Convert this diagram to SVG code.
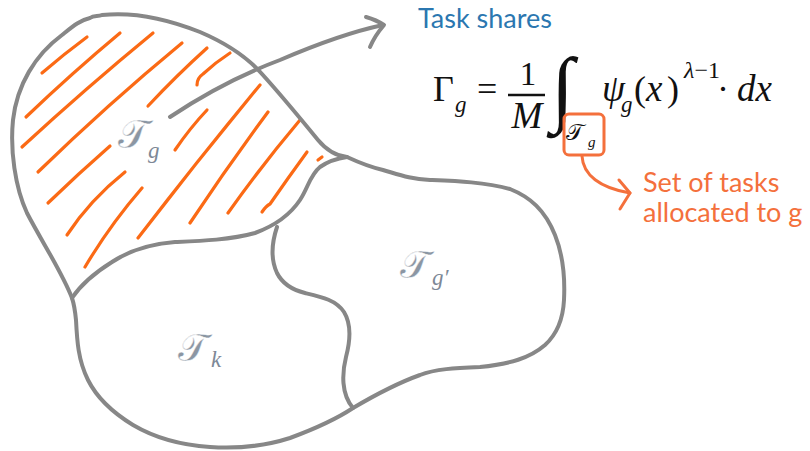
<svg xmlns="http://www.w3.org/2000/svg" width="810" height="451" viewBox="0 0 810 451">
<style>
.outline{fill:none;stroke:#878787;stroke-width:4;stroke-linecap:round;stroke-linejoin:round}
.hatch{fill:none;stroke:#fb6a15;stroke-width:3.2;stroke-linecap:round}
.ann{fill:none;stroke:#f4703c;stroke-width:3;stroke-linecap:round;stroke-linejoin:round}
.m{font-family:"Liberation Serif","DejaVu Serif",serif;fill:#111}
.i{font-style:italic}
.lbl{font-family:"DejaVu Serif","Liberation Serif",serif;fill:#8b96a3;stroke:#fff;stroke-width:0.35}
.sub{font-family:"Liberation Serif",serif;font-style:italic;fill:#7d8896}
</style>
<rect width="810" height="451" fill="#fff"/>
<g id="hatching">
<path class="hatch" d="M42,73 Q64,54 87,37"/>
<path class="hatch" d="M26,117 Q72,73 120,33"/>
<path class="hatch" d="M22,147 Q86,88 153,33"/>
<path class="hatch" d="M38,172 Q108,104 182,43"/>
<path class="hatch" d="M148,106 Q176,76 207,48"/>
<path class="hatch" d="M197,85 Q197,78 203,74 Q216,62 230,53"/>
<path class="hatch" d="M48,203 Q78,174 110,146"/>
<path class="hatch" d="M67,235 Q90,200 125,172"/>
<path class="hatch" d="M85,267 Q110,225 142,188"/>
<path class="hatch" d="M175,150 Q190,128 207,110"/>
<path class="hatch" d="M138,238 Q198,160 260,85"/>
<path class="hatch" d="M190,223 Q228,166 268,112"/>
<path class="hatch" d="M228,213 Q262,165 300,120"/>
<path class="hatch" d="M262,212 Q266,206 270,204 Q288,178 307,152"/>
<path class="hatch" d="M318,160 L322,157"/>
</g>
<g id="regions">
<path id="outer" class="outline" d="M72,298 C 62,272 42,242 27,213 C 15,187 10,150 13,120 C 17,85 35,55 62,35 C 72,27 80,20 90,18 C 94,15 98,17 102,15 C 130,12 165,18 200,32 C 228,44 248,58 262,74 C 282,96 300,118 318,140 C 328,152 337,156 347,157 C 360,163 370,167 383,170 C 400,175 410,179 430,180 C 455,181 485,182 510,189 C 530,197 545,210 555,235 C 563,255 565,280 564,300 C 563,320 556,335 545,345 C 530,358 510,364 480,367 C 455,368 435,369 420,375 C 395,384 375,395 353,408 C 335,420 317,428 290,438 C 265,446 240,449 210,447 C 180,445 155,438 133,425 C 115,414 97,398 88,380 C 78,360 77,340 76,320 C 75,310 74,304 72,298 Z"/>
<path id="tg-boundary" class="outline" d="M72,298 C 82,283 96,272 112,262 C 130,250 150,244 175,242 C 200,241 230,240 255,233 C 274,226 290,215 300,200 C 308,188 310,175 320,167 C 330,160 340,158 347,157"/>
<path id="tk-boundary" class="outline" d="M277,227 C 272,242 270,258 277,273 C 283,285 293,290 305,293 C 322,297 336,300 344,312 C 352,325 350,342 346,357 C 342,373 341,394 353,408"/>
</g>
<g id="labels">
<text class="lbl" x="118" y="148" font-size="40">𝒯</text>
<text class="sub" x="148" y="158" font-size="23">g</text>
<text class="lbl" x="178" y="361" font-size="39">𝒯</text>
<text class="sub" x="211" y="367" font-size="23">k</text>
<text class="lbl" x="400" y="278" font-size="39">𝒯</text>
<text class="sub" x="432" y="285" font-size="23">g′</text>
</g>
<g id="connectors">
<path class="outline" d="M170,117 C 200,97 240,75 280,60 C 315,45 350,32 383,25"/>
<path class="outline" d="M366,17 C 373,19 378,21 384,25 C 378,32 373,40 370,47"/>
<path class="ann" d="M582,156 C 583,175 600,188 630,193"/>
<path class="ann" d="M619,180 L630,193 L620,209"/>
</g>
<g id="title">
<text x="418" y="28" font-family="Lato,'Open Sans',sans-serif" font-size="27" fill="#2b77b0">Task shares</text>
</g>
<g id="formula">
<text class="m" x="433" y="101" font-size="36">Γ</text>
<text class="m i" x="455" y="112" font-size="23">g</text>
<text class="m" x="477" y="101" font-size="36">=</text>
<text class="m" x="528" y="85" font-size="33" text-anchor="middle">1</text>
<line x1="508" y1="95" x2="545" y2="95" stroke="#111" stroke-width="2.6"/>
<text class="m i" x="527" y="128" font-size="37" text-anchor="middle">M</text>
<text class="m" x="551" y="116" font-size="84">∫</text>
<text class="m i" x="602" y="101" font-size="37">ψ</text>
<text class="m i" x="621" y="112" font-size="23">g</text>
<text class="m" x="634" y="101" font-size="36">(</text>
<text class="m i" x="646" y="101" font-size="37">x</text>
<text class="m" x="667" y="101" font-size="36">)</text>
<text class="m" x="684" y="78" font-size="24"><tspan class="i">λ</tspan>−1</text>
<text class="m" x="717" y="101" font-size="36">·</text>
<text class="m i" x="737" y="101" font-size="37">dx</text>
</g>
<g id="set-box">
<rect x="564" y="114" width="40" height="41" rx="5" fill="none" stroke="#f4703c" stroke-width="3"/>
<text class="m" x="566" y="140" font-size="23" fill="#333">𝒯</text>
<text class="m i" x="588" y="147" font-size="15">g</text>
</g>
<g id="set-label" font-family="Lato,'Open Sans',sans-serif" font-size="27" fill="#f4703c">
<text x="643" y="192">Set of tasks</text>
<text x="643" y="222">allocated to g</text>
</g>
</svg>
